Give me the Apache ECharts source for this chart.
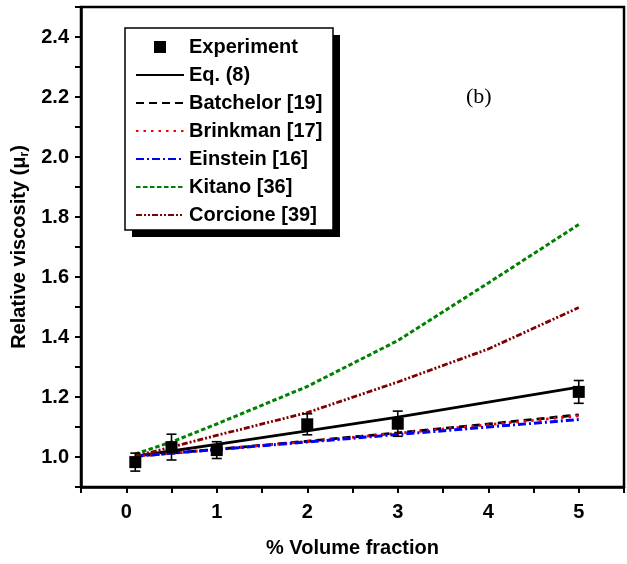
<!DOCTYPE html>
<html><head><meta charset="utf-8">
<script src="https://cdn.jsdelivr.net/npm/echarts@6/dist/echarts.min.js"></script>
<style>html,body{margin:0;padding:0;background:#fff}#c{width:627px;height:564px}</style>
</head><body><div id="c"></div>
<script>
// x positions (% volume fraction) of the model curves
const xLines = [0.1, 0.5, 1, 2, 3, 4, 5];
// experimental data
const expX = [0.1, 0.5, 1, 2, 3, 5];
const expY = [0.983, 1.033, 1.023, 1.109, 1.111, 1.217];
const expErr = [0.030, 0.043, 0.028, 0.035, 0.042, 0.038];
// model curves
const eq8 = [1.003, 1.020, 1.042, 1.087, 1.133, 1.183, 1.233];
const batchelor = [1.0025, 1.0127, 1.0256, 1.0525, 1.0806, 1.110, 1.1405];
const brinkman = [1.0025, 1.0126, 1.0255, 1.0518, 1.0791, 1.1075, 1.1369];
const einstein = [1.0025, 1.0125, 1.025, 1.050, 1.075, 1.100, 1.125];
const kitano = [1.010, 1.050, 1.110, 1.235, 1.388, 1.580, 1.775];
const corcione = [1.003, 1.033, 1.072, 1.148, 1.250, 1.360, 1.498];
// axis ticks
const xTickLabels = ['0', '1', '2', '3', '4', '5'];
const yTickLabels = ['1.0', '1.2', '1.4', '1.6', '1.8', '2.0', '2.2', '2.4'];

const FONT = '"Liberation Sans", Arial, sans-serif';
const pair = arr => xLines.map((x, i) => [x, arr[i]]);

function lineSeries(name, data, color, type, width) {
  return {
    name, type: 'line', data: pair(data), symbol: 'none', showSymbol: false,
    lineStyle: { color, type, width, cap: 'butt' }, itemStyle: { color, opacity: 0 },
    z: 2, animation: false
  };
}
const lineItem = name => ({ name, itemStyle: { opacity: 0 } });

const chart = echarts.init(document.getElementById('c'), null, { renderer: 'canvas' });
chart.setOption({
  animation: false,
  backgroundColor: '#fff',
  grid: { left: 81, right: -1, top: 7, bottom: 77, show: true, borderColor: '#000', borderWidth: 2.5, backgroundColor: 'transparent' },
  xAxis: {
    type: 'value', min: -0.5, max: 5.5, interval: 0.5,
    name: '% Volume fraction', nameLocation: 'middle', nameGap: 51,
    nameTextStyle: { fontFamily: FONT, fontWeight: 'bold', fontSize: 20, color: '#000' },
    axisLine: { show: true, onZero: false, lineStyle: { color: '#000', width: 2.5 } },
    axisTick: { show: true, inside: false, length: 6, lineStyle: { color: '#000', width: 2 } },
    axisLabel: {
      margin: 15, fontFamily: FONT, fontWeight: 'bold', fontSize: 20, color: '#000',
      formatter: v => { const r = Math.round(v * 2) / 2; return (Number.isInteger(r) && xTickLabels.includes(String(r))) ? String(r) : ''; }
    },
    splitLine: { show: false }
  },
  yAxis: {
    type: 'value', min: 0.9, max: 2.5, interval: 0.1,
    name: '{a|Relative viscosity (μ}{s|r}{a|)}', nameLocation: 'middle', nameGap: 44, nameRotate: 90,
    nameTextStyle: {
      rich: {
        a: { fontFamily: FONT, fontWeight: 'bold', fontSize: 20, color: '#000' },
        s: { fontFamily: FONT, fontWeight: 'bold', fontSize: 12, color: '#000', verticalAlign: 'bottom', padding: [10, 0, 0, 0] }
      }
    },
    axisLine: { show: true, onZero: false, lineStyle: { color: '#000', width: 2.5 } },
    axisTick: { show: true, inside: false, length: 6, lineStyle: { color: '#000', width: 2 } },
    axisLabel: {
      margin: 12, fontFamily: FONT, fontWeight: 'bold', fontSize: 20, color: '#000',
      formatter: v => { const s = (Math.round(v * 10) / 10).toFixed(1); return yTickLabels.includes(s) ? s : ''; }
    },
    splitLine: { show: false }
  },
  legend: {
    orient: 'vertical', left: 135, top: 37, padding: 0, itemGap: 8,
    itemWidth: 48, itemHeight: 12,
    textStyle: { fontFamily: FONT, fontWeight: 'bold', fontSize: 20, color: '#000', lineHeight: 20 },
    data: [
      { name: 'Experiment', icon: 'path://M0,0h10v10h-10z' },
      lineItem('Eq. (8)'), lineItem('Batchelor [19]'), lineItem('Brinkman [17]'),
      lineItem('Einstein [16]'), lineItem('Kitano [36]'), lineItem('Corcione [39]')
    ],
    z: 10
  },
  graphic: [
    { type: 'rect', z: 5, shape: { x: 132, y: 35, width: 208, height: 202 }, style: { fill: '#000' } },
    { type: 'rect', z: 5, shape: { x: 125, y: 28, width: 208, height: 202 }, style: { fill: '#fff', stroke: '#000', lineWidth: 1.5 } },
    { type: 'text', z: 5, left: 466, top: 86, style: { text: '(b)', font: '22px "Liberation Serif", "Times New Roman", serif', fill: '#000' } }
  ],
  series: [
    lineSeries('Eq. (8)', eq8, '#000000', 'solid', 2.8),
    lineSeries('Batchelor [19]', batchelor, '#000000', [8, 5], 2.8),
    lineSeries('Brinkman [17]', brinkman, '#ff0000', [2.5, 5], 2.8),
    lineSeries('Einstein [16]', einstein, '#0000ff', [8, 3, 2, 3], 3),
    lineSeries('Kitano [36]', kitano, '#008000', [4.5, 2.5], 3),
    lineSeries('Corcione [39]', corcione, '#800000', [6, 2, 2, 2, 2, 2], 2.8),
    {
      name: 'errbar', type: 'custom', z: 3,
      data: expX.map((x, i) => [x, expY[i], expErr[i]]),
      encode: { x: 0, y: 1 },
      renderItem: (params, api) => {
        const x = api.value(0), y = api.value(1), e = api.value(2);
        const t = api.coord([x, y + e]), b = api.coord([x, y - e]);
        const w = 5, st = { stroke: '#000', lineWidth: 1.6 };
        return { type: 'group', children: [
          { type: 'line', shape: { x1: t[0], y1: t[1], x2: b[0], y2: b[1] }, style: st },
          { type: 'line', shape: { x1: t[0] - w, y1: t[1], x2: t[0] + w, y2: t[1] }, style: st },
          { type: 'line', shape: { x1: b[0] - w, y1: b[1], x2: b[0] + w, y2: b[1] }, style: st }
        ] };
      }
    },
    {
      name: 'Experiment', type: 'scatter', symbol: 'rect', symbolSize: 12, z: 4,
      data: expX.map((x, i) => [x, expY[i]]), itemStyle: { color: '#000', opacity: 1 }
    }
  ]
});
</script></body></html>
